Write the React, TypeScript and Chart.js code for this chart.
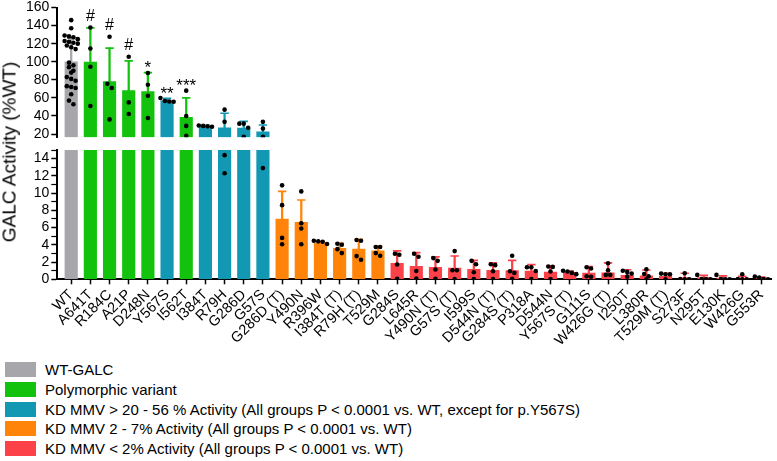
import React, { useEffect, useRef } from 'react';
import { Chart, registerables } from 'chart.js';

Chart.register(...registerables);

const FONT = "'Liberation Sans', Arial, sans-serif";

const CATEGORIES = [
  'WT', 'A641T', 'R184C', 'A21P', 'D248N', 'Y567S', 'I562T', 'I384T', 'R79H', 'G286D', 'G57S',
  'G286D (T)', 'Y490N', 'R396W', 'I384T (T)', 'R79H (T)', 'T529M',
  'G284S', 'L645R', 'Y490N (T)', 'G57S (T)', 'I599S', 'D544N (T)', 'G284S (T)', 'P318A', 'D544N',
  'Y567S (T)', 'G111S', 'W426G (T)', 'I250T', 'L380R', 'T529M (T)', 'S273F', 'N295T', 'E130K', 'W426G', 'G553R',
];

// group of each category: 0 WT, 1 polymorphic, 2 >20-56%, 3 2-7%, 4 <2%
const GROUP_OF = [
  0, 1, 1, 1, 1, 2, 1, 2, 2, 2, 2,
  3, 3, 3, 3, 3, 3,
  4, 4, 4, 4, 4, 4, 4, 4, 4, 4, 4, 4, 4, 4, 4, 4, 4, 4, 4, 4,
];

const GROUP_LABELS = [
  'WT-GALC',
  'Polymorphic variant',
  'KD MMV > 20 - 56 % Activity (All groups P < 0.0001 vs. WT, except for p.Y567S)',
  'KD MMV 2 - 7% Activity (All groups P < 0.0001 vs. WT)',
  'KD MMV < 2% Activity (All groups P < 0.0001 vs. WT)',
];

const GROUP_COLORS = ['#a7a6ab', '#12c20c', '#1298b3', '#ff8409', '#fc4148'];

const MEANS = [
  100, 99.5, 78, 68, 67, 57, 38.5, 28.5, 27, 26.5, 22.5,
  7.0, 6.6, 4.2, 3.6, 3.5, 3.3,
  1.85, 1.5, 1.4, 1.3, 1.15, 1.05, 1.0, 0.95, 0.85, 0.8, 0.73, 0.75, 0.45, 0.4, 0.35, 0.18, 0.2, 0.15, 0.15, 0.15,
];

const SDS = [
  26, 38, 37, 33, 21, 2.5, 21.5, 1.2, 16, 7.5, 7.5,
  3.2, 2.6, 0.2, 0.6, 1.15, 0.55,
  1.45, 1.6, 1.2, 1.4, 1.05, 0.85, 1.2, 0.75, 0.7, 0.16, 0.74, 1.15, 0.65, 0.68, 0.35, 0.52, 0.25, 0.25, 0.2, 0.1,
];

const DOTS: number[][] = [
  [146, 137, 129, 128, 127, 125, 123, 122, 121, 120, 118, 116, 114, 99, 96, 94, 90, 88, 83, 81, 79, 73, 72, 71, 64, 57, 53],
  [137.9, 114.7, 94.4, 51],
  [127.6, 75.6, 70.9, 36.2],
  [105.5, 55, 42.1],
  [87.5, 74.5, 62.4, 37.7],
  [56, 56.5, 55.8, 59.8],
  [68, 40, 29, 18],
  [28, 29.5, 29, 28.5],
  [47, 33.5, 14.4, 12.3],
  [31.5, 31.5, 27, 17],
  [33.5, 26, 17, 12.9],
  [10.9, 8.6, 4.8, 4.06],
  [10.2, 6.5, 5.9, 4.06],
  [4.36, 4.09, 4.4, 4.48],
  [4.13, 3.5, 4.0, 3.04],
  [4.56, 4.48, 2.69, 2.26],
  [3.74, 3.74, 3.04, 2.73],
  [2.96, 2.84, 1.72, 0.05],
  [2.96, 2.61, 0.97, 0.1],
  [2.14, 2.46, 1.13, 0.05],
  [3.27, 1.05, 1.05, 0.02],
  [1.75, 2.14, 0.82, 0.03],
  [1.64, 1.75, 0.94, 0.02],
  [2.73, 0.74, 0.94, 0.05],
  [1.4, 1.4, 0.97, 0.02],
  [1.44, 1.48, 0.9, 0.03],
  [0.9, 0.74, 1.0, 0.6],
  [1.4, 1.25, 0.35, 0.3],
  [1.87, 1.05, 0.51, 0.51],
  [1.0, 0.86, 0.66, 0.31],
  [1.17, 0.62, 0.35, 0.0],
  [0.58, 0.66, 0.58, 0.0],
  [0.7, 0.0, 0.0, 0.02],
  [0.51, 0.04, 0.0, 0.02],
  [0.51, 0.0, 0.02, 0.0],
  [0.58, 0.0, 0.02, 0.0],
  [0.31, 0.2, 0.0, 0.02],
];

const SIG = ['', '#', '#', '#', '*', '**', '***', '', '', '', '', '', '', '', '', '', '', '', '', '', '', '', '', '', '', '', '', '', '', '', '', '', '', '', '', '', ''];

const Y_TOP_TICKS_STEP = 20;
const TOP_MIN = 16.5;
const TOP_MAX = 160;
const BOT_MAX = 15;

// layout constants (pixels)
const CANVAS_W = 777;
const CANVAS_H = 360;
const Y_AXIS_W = 57.3;
const X_AXIS_H = 80.7;
const CAT_PX = 19.17;
const TOP_PXU = 0.907;
const BOT_PXU = 8.62;
const DOT_STEP = 4.4;

function swarm(vals: number[], pxPerUnit: number): number[] {
  const order = vals.map((_, k) => k).sort((a, b) => vals[b] - vals[a]);
  const offs: number[] = new Array(vals.length).fill(0);
  let row: number[] = [];
  const flush = () => {
    row.forEach((k, j) => {
      offs[k] = ((j - (row.length - 1) / 2) * DOT_STEP) / CAT_PX;
    });
    row = [];
  };
  for (const k of order) {
    if (row.length && (vals[row[0]] - vals[k]) * pxPerUnit >= DOT_STEP) flush();
    row.push(k);
  }
  flush();
  return offs;
}

const sigPlugin = {
  id: 'sigMarks',
  afterDatasetsDraw(chart: any) {
    const { ctx } = chart;
    const xs = chart.scales.x;
    const ys = chart.scales.yTop;
    ctx.save();
    ctx.fillStyle = '#000';
    ctx.textAlign = 'center';
    ctx.textBaseline = 'alphabetic';
    SIG.forEach((s, i) => {
      if (!s) return;
      const peak = Math.max(MEANS[i] + SDS[i], ...DOTS[i]);
      const py = ys.getPixelForValue(peak);
      const hash = s.includes('#');
      ctx.font = `${hash ? 16 : 17}px ${FONT}`;
      ctx.fillText(s, xs.getPixelForValue(i), hash ? py - 6.5 : py + 0.5);
    });
    ctx.restore();
  },
};

export default function App() {
  const ref = useRef<HTMLCanvasElement>(null);

  useEffect(() => {
    if (!ref.current) return;
    const colorAt = (c: any) => {
      const x = c && c.raw ? Math.round(c.raw.x) : 0;
      return GROUP_COLORS[GROUP_OF[x] ?? 0];
    };
    const idx = MEANS.map((_, i) => i);
    const topIdx = idx.filter((i) => MEANS[i] > TOP_MIN);
    const botIdx = idx.filter((i) => MEANS[i] <= BOT_MAX);

    const barsTop = topIdx.map((i) => ({ x: i, y: [TOP_MIN, MEANS[i]] }));
    const barsBot = idx.map((i) => ({ x: i, y: [0, Math.min(MEANS[i], BOT_MAX)] }));
    const stemsTop = topIdx.map((i) => ({ x: i, y: [MEANS[i], MEANS[i] + SDS[i]] }));
    const stemsBot = botIdx.map((i) => ({ x: i, y: [MEANS[i], MEANS[i] + SDS[i]] }));
    const capsTop = topIdx.map((i) => ({ x: i, y: MEANS[i] + SDS[i] }));
    const capsBot = botIdx.map((i) => ({ x: i, y: MEANS[i] + SDS[i] }));

    const dotsTop: { x: number; y: number }[] = [];
    const dotsBot: { x: number; y: number }[] = [];
    DOTS.forEach((vals, i) => {
      const hi = vals.filter((v) => v >= BOT_MAX);
      const lo = vals.filter((v) => v < BOT_MAX);
      swarm(hi, TOP_PXU).forEach((o, k) => dotsTop.push({ x: i + o, y: hi[k] }));
      swarm(lo, BOT_PXU).forEach((o, k) => dotsBot.push({ x: i + o, y: lo[k] }));
    });

    const dotStyle = {
      type: 'scatter' as const,
      pointRadius: 2.3,
      pointBackgroundColor: '#000',
      pointBorderWidth: 0,
      pointHoverRadius: 2.3,
      order: 0,
    };
    const capStyle = {
      type: 'scatter' as const,
      pointStyle: 'line' as const,
      pointRadius: 4.2,
      pointBorderWidth: 1.6,
      pointBorderColor: colorAt,
      pointBackgroundColor: colorAt,
      order: 1,
    };
    const stemStyle = {
      type: 'bar' as const,
      barThickness: 1.6,
      grouped: false,
      backgroundColor: colorAt,
      borderWidth: 0,
      order: 2,
    };
    const barStyle = {
      type: 'bar' as const,
      barThickness: 12.5,
      grouped: false,
      backgroundColor: colorAt,
      borderWidth: 0,
      order: 3,
    };

    const yGrid = {
      drawOnChartArea: false,
      drawTicks: true,
      tickLength: 6,
      tickWidth: 1.5,
      tickColor: '#000',
    };
    const yBorder = { display: true, color: '#000', width: 2 };
    const yTicksFont = { family: FONT, size: 14 };

    const chart = new Chart(ref.current, {
      type: 'bar',
      data: {
        datasets: [
          { ...dotStyle, data: dotsTop, yAxisID: 'yTop' },
          { ...dotStyle, data: dotsBot, yAxisID: 'yBottom' },
          { ...capStyle, data: capsTop, yAxisID: 'yTop' },
          { ...capStyle, data: capsBot, yAxisID: 'yBottom' },
          { ...stemStyle, data: stemsTop, yAxisID: 'yTop' },
          { ...stemStyle, data: stemsBot, yAxisID: 'yBottom' },
          { ...barStyle, data: barsTop, yAxisID: 'yTop' },
          { ...barStyle, data: barsBot, yAxisID: 'yBottom' },
        ] as any,
      },
      options: {
        responsive: false,
        maintainAspectRatio: false,
        animation: false,
        events: [],
        layout: { padding: { left: 0, right: 6, top: 7.5, bottom: 0 } },
        plugins: { legend: { display: false }, tooltip: { enabled: false } },
        scales: {
          x: {
            type: 'linear',
            position: 'bottom',
            min: -0.725,
            max: 36.5,
            offset: false,
            z: 1,
            grid: {
              offset: false,
              drawOnChartArea: false,
              drawTicks: true,
              tickLength: 5,
              tickWidth: 1.5,
              tickColor: '#000',
            },
            border: { display: true, color: '#000', width: 2 },
            ticks: {
              stepSize: 1,
              autoSkip: false,
              includeBounds: false,
              minRotation: 45,
              maxRotation: 45,
              padding: 2,
              color: '#000',
              font: { family: FONT, size: 14.5 },
              callback: (v: any) => CATEGORIES[v as number] ?? '',
            },
            afterFit: (s: any) => {
              s.height = X_AXIS_H;
              s.paddingLeft = 0;
              s.paddingRight = 0;
            },
          },
          yBottom: {
            type: 'linear',
            axis: 'y',
            position: 'left',
            stack: 'panels',
            stackWeight: 129.3,
            min: 0,
            max: BOT_MAX,
            beginAtZero: false,
            grid: { ...yGrid, tickWidth: (c: any) => (c.tick && c.tick.value % 2 ? 1.2 : 1.5) },
            border: yBorder,
            ticks: {
              stepSize: 1,
              autoSkip: false,
              includeBounds: false,
              padding: 2,
              color: '#000',
              font: yTicksFont,
              callback: (v: any) => (v % 2 === 0 && v < BOT_MAX ? String(v) : ''),
            },
            afterFit: (s: any) => {
              s.width = Y_AXIS_W;
              s.paddingTop = 0;
              s.paddingBottom = 0;
            },
          },
          yGap: {
            type: 'linear',
            axis: 'y',
            position: 'left',
            stack: 'panels',
            stackWeight: 12.8,
            display: false,
            min: 0,
            max: 1,
          },
          yTop: {
            type: 'linear',
            axis: 'y',
            position: 'left',
            stack: 'panels',
            stackWeight: 129.7,
            min: TOP_MIN,
            max: TOP_MAX,
            beginAtZero: false,
            grid: yGrid,
            border: yBorder,
            ticks: {
              stepSize: Y_TOP_TICKS_STEP,
              autoSkip: false,
              includeBounds: false,
              padding: 2,
              color: '#000',
              font: yTicksFont,
            },
            afterFit: (s: any) => {
              s.width = Y_AXIS_W;
              s.paddingTop = 0;
              s.paddingBottom = 0;
            },
          },
        } as any,
      },
      plugins: [sigPlugin],
    });
    return () => chart.destroy();
  }, []);

  return (
    <div
      style={{
        position: 'absolute',
        left: 0,
        top: 0,
        width: 777,
        height: 461,
        background: '#fff',
        fontFamily: FONT,
        color: '#000',
        overflow: 'hidden',
      }}
    >
      <canvas
        ref={ref}
        width={CANVAS_W}
        height={CANVAS_H}
        style={{ position: 'absolute', left: 0, top: 0, width: CANVAS_W, height: CANVAS_H }}
      />
      <div
        style={{
          position: 'absolute',
          left: 9,
          top: 151.5,
          transform: 'translate(-50%, -50%) rotate(-90deg)',
          whiteSpace: 'nowrap',
          fontSize: 19,
          lineHeight: '19px',
        }}
      >
        GALC Activity (%WT)
      </div>
      {GROUP_LABELS.map((label, k) => (
        <div
          key={label}
          style={{
            position: 'absolute',
            left: 5,
            top: 362 + k * 19.8,
            height: 15,
            display: 'flex',
            alignItems: 'center',
            whiteSpace: 'nowrap',
          }}
        >
          <span style={{ display: 'inline-block', width: 31, height: 15, background: GROUP_COLORS[k] }} />
          <span style={{ marginLeft: 9, fontSize: 15, lineHeight: '15px' }}>{label}</span>
        </div>
      ))}
    </div>
  );
}
